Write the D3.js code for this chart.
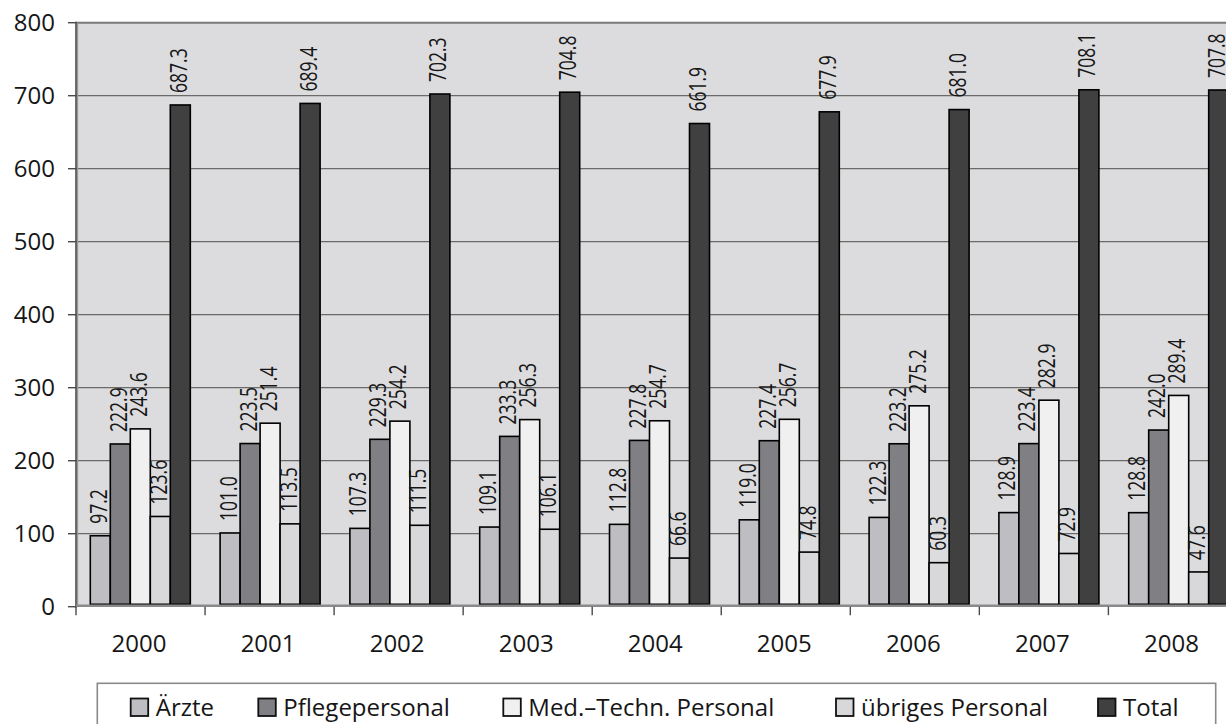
<!DOCTYPE html>
<html>
<head>
<meta charset="utf-8">
<script src="https://cdn.jsdelivr.net/npm/d3@7"></script>
<style>
  html, body { margin: 0; padding: 0; background: #ffffff; overflow: hidden; }
  svg { display: block; }
  text { font-family: "Open Sans", "DejaVu Sans", sans-serif; fill: #161616; }
</style>
</head>
<body>
<svg id="chart" width="1226" height="724"></svg>
<script>
// Personalbestand nach Berufsgruppe, 2000–2008
const years = ["2000", "2001", "2002", "2003", "2004", "2005", "2006", "2007", "2008"];
const seriesNames = ["Ärzte", "Pflegepersonal", "Med.–Techn. Personal", "übriges Personal", "Total"];
const aerzte   = [97.2, 101.0, 107.3, 109.1, 112.8, 119.0, 122.3, 128.9, 128.8];
const pflege   = [222.9, 223.5, 229.3, 233.3, 227.8, 227.4, 223.2, 223.4, 242.0];
const medTech  = [243.6, 251.4, 254.2, 256.3, 254.7, 256.7, 275.2, 282.9, 289.4];
const uebrige  = [123.6, 113.5, 111.5, 106.1, 66.6, 74.8, 60.3, 72.9, 47.6];
const total    = [687.3, 689.4, 702.3, 704.8, 661.9, 677.9, 681.0, 708.1, 707.8];
const yTicks   = [0, 100, 200, 300, 400, 500, 600, 700, 800];
const seriesColors = ["#bebec2", "#7f7f84", "#f0f0f0", "#d8d8da", "#404040"];

const seriesValues = [aerzte, pflege, medTech, uebrige, total];

const svg = d3.select("#chart");

// plot frame
const plotLeft = 76, plotTop = 22.7, plotBottom = 606.7;
const axisStep = 129.05, barStep = 129.8;

const y = d3.scaleLinear().domain([0, 800]).range([plotBottom, plotTop]);
// category scale for the axis ticks and year labels
const xAxis = d3.scaleBand().domain(years).range([plotLeft, plotLeft + axisStep * years.length]).padding(0);
// category scale for the bar groups
const xBars = d3.scaleBand().domain(years).range([plotLeft, plotLeft + barStep * years.length]).padding(0);
// bar position inside a group
const xInner = d3.scaleBand().domain(seriesNames).range([14.3, 114.3]).padding(0);
const color = d3.scaleOrdinal().domain(seriesNames).range(seriesColors);

// plot background
svg.append("rect")
  .attr("x", plotLeft).attr("y", plotTop)
  .attr("width", 1300 - plotLeft).attr("height", plotBottom - plotTop)
  .attr("fill", "#dcdcde");

// horizontal gridlines
svg.append("g")
  .selectAll("line")
  .data(yTicks.filter(d => d > 0))
  .join("line")
  .attr("x1", plotLeft).attr("x2", 1300)
  .attr("y1", d => y(d)).attr("y2", d => y(d))
  .attr("stroke", d => d === 800 ? "#7a7a7a" : "#6a6a6a")
  .attr("stroke-width", d => d === 800 ? 2 : 1.2);

// bars
const rows = years.map((yr, i) => ({ year: yr, values: seriesNames.map((s, k) => ({ series: s, value: seriesValues[k][i] })) }));

const groups = svg.append("g")
  .selectAll("g")
  .data(rows)
  .join("g")
  .attr("transform", d => `translate(${xBars(d.year)},0)`);

groups.selectAll("rect")
  .data(d => d.values)
  .join("rect")
  .attr("x", d => xInner(d.series))
  .attr("y", d => y(d.value))
  .attr("width", xInner.bandwidth())
  .attr("height", d => y(0) - 2.4 - y(d.value))
  .attr("fill", d => color(d.series))
  .attr("stroke", "#000")
  .attr("stroke-width", 1.6);

// value labels, rotated
groups.selectAll("text")
  .data(d => d.values)
  .join("text")
  .attr("transform", d => `translate(${xInner(d.series) + xInner.bandwidth() / 2 + 6.5},${y(d.value) - 12}) scale(1.34,1) rotate(-90)`)
  .attr("text-anchor", "start")
  .style("font-size", "17.5px")
  .text(d => d.value.toFixed(1));

// y axis
svg.append("line")
  .attr("x1", plotLeft).attr("x2", plotLeft)
  .attr("y1", plotTop - 1).attr("y2", plotBottom + 1)
  .attr("stroke", "#4a4a4a").attr("stroke-width", 1.6);
svg.append("line")
  .attr("x1", plotLeft + 1.6).attr("x2", plotLeft + 1.6)
  .attr("y1", plotTop).attr("y2", plotBottom)
  .attr("stroke", "#9a9a9a").attr("stroke-width", 1.2);

const yAxisG = svg.append("g");
yAxisG.selectAll("line")
  .data(yTicks)
  .join("line")
  .attr("x1", plotLeft - 8).attr("x2", plotLeft)
  .attr("y1", d => y(d)).attr("y2", d => y(d))
  .attr("stroke", "#4a4a4a").attr("stroke-width", 1.4);
yAxisG.selectAll("text")
  .data(yTicks)
  .join("text")
  .attr("x", 55)
  .attr("y", d => y(d) + 8.5)
  .attr("text-anchor", "end")
  .style("font-size", "24px")
  .text(d => d);

// x axis
svg.append("line")
  .attr("x1", plotLeft).attr("x2", 1300)
  .attr("y1", plotBottom - 1).attr("y2", plotBottom - 1)
  .attr("stroke", "#8a8a8a").attr("stroke-width", 2.6);

const xAxisG = svg.append("g");
xAxisG.selectAll("line")
  .data(years.concat(["end"]))
  .join("line")
  .attr("x1", (d, i) => plotLeft + i * xAxis.step())
  .attr("x2", (d, i) => plotLeft + i * xAxis.step())
  .attr("y1", plotBottom).attr("y2", plotBottom + 8.5)
  .attr("stroke", "#4a4a4a").attr("stroke-width", 1.4);
xAxisG.selectAll("text")
  .data(years)
  .join("text")
  .attr("x", d => xAxis(d) + xAxis.bandwidth() / 2 - 1.5)
  .attr("y", 651.5)
  .attr("text-anchor", "middle")
  .style("font-size", "24px")
  .text(d => d);

// legend: box and one swatch + label per series
const legendItemX = [130.7, 258.3, 503.3, 836, 1098];
const legend = svg.append("g");
legend.append("rect")
  .attr("x", 97.3).attr("y", 683.3)
  .attr("width", 1215.7 - 97.3).attr("height", 80)
  .attr("fill", "#fff")
  .attr("stroke", "#8a8a8a").attr("stroke-width", 1.6);

const items = legend.selectAll("g.item")
  .data(seriesNames)
  .join("g")
  .attr("class", "item")
  .attr("transform", (d, i) => `translate(${legendItemX[i]},0)`);
items.append("rect")
  .attr("x", 0).attr("y", 698.5)
  .attr("width", 17.5).attr("height", 17.5)
  .attr("fill", d => color(d))
  .attr("stroke", "#111").attr("stroke-width", 1.8);
items.append("text")
  .attr("x", 25)
  .attr("y", 715.5)
  .style("font-size", "24px")
  .text(d => d);
</script>
</body>
</html>
